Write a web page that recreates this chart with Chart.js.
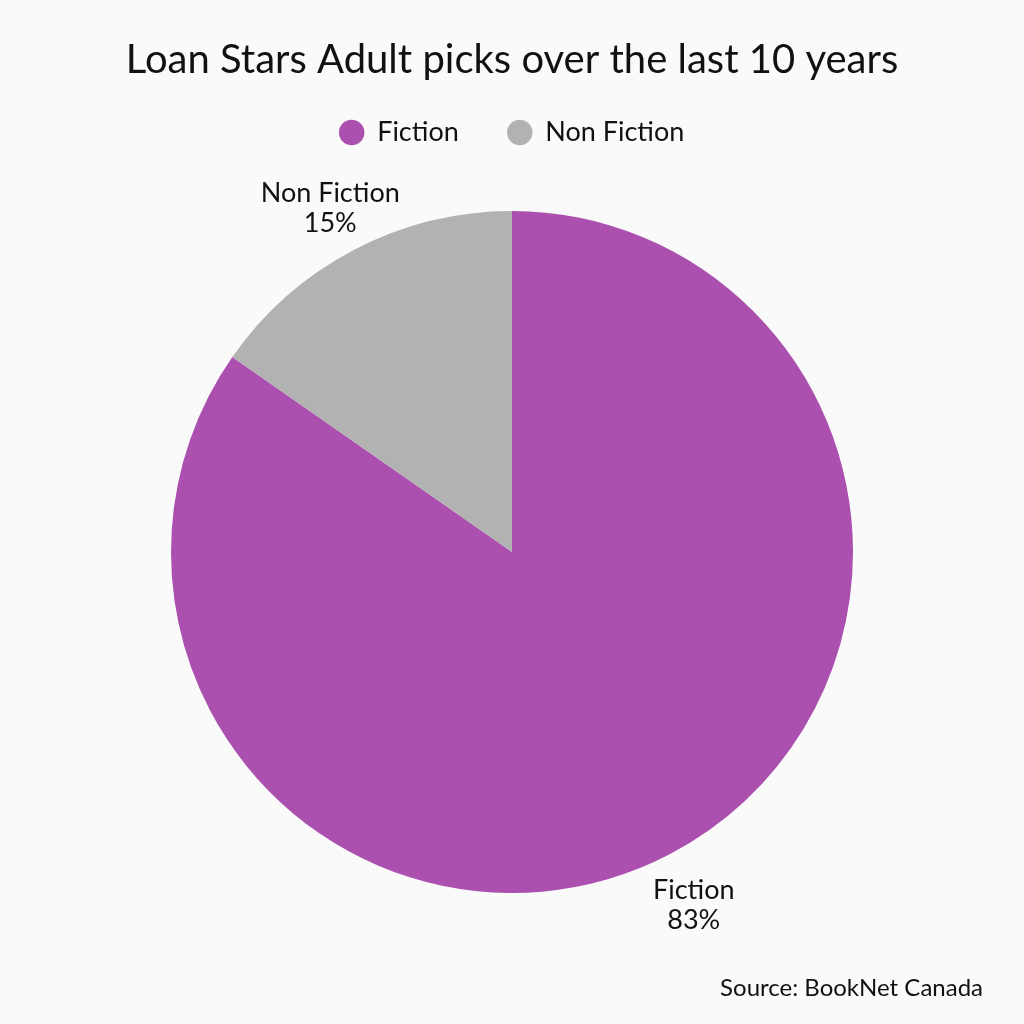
<!DOCTYPE html>
<html>
<head>
<meta charset="utf-8">
<title>Loan Stars Adult picks</title>
<script src="https://cdn.jsdelivr.net/npm/chart.js@4/dist/chart.umd.min.js"></script>
<style>
  body { margin: 0; background: #fafafa; }
  #wrap { width: 1024px; height: 1024px; }
</style>
</head>
<body>
<div id="wrap"><canvas id="pieChart"></canvas></div>
<script>
// Chart data
const categories = ["Fiction", "Non Fiction"];
const picks = [83, 15];
const sliceColors = ["#ab50ae", "#b2b2b2"];

const FONT = "Lato, 'Open Sans', sans-serif";

// Draw "name / value%" outside each slice
const outsideLabels = {
  id: "outsideLabels",
  afterDatasetsDraw(chart) {
    const ctx = chart.ctx;
    const meta = chart.getDatasetMeta(0);
    ctx.save();
    ctx.font = "27px " + FONT;
    ctx.fillStyle = "#111";
    ctx.textAlign = "center";
    ctx.textBaseline = "middle";
    meta.data.forEach((arc, i) => {
      const p = arc.getProps(["x", "y", "startAngle", "endAngle", "outerRadius"], true);
      const mid = (p.startAngle + p.endAngle) / 2;
      const r = p.outerRadius + 52;
      const x = p.x + Math.cos(mid) * r;
      const y = p.y + Math.sin(mid) * r;
      ctx.fillText(categories[i], x, y - 10);
      ctx.fillText(picks[i] + "%", x, y + 20);
    });
    ctx.restore();
  }
};

// Source note in the bottom right corner
const sourceNote = {
  id: "sourceNote",
  afterDraw(chart) {
    const ctx = chart.ctx;
    ctx.save();
    ctx.font = "24px " + FONT;
    ctx.fillStyle = "#111";
    ctx.textAlign = "right";
    ctx.textBaseline = "middle";
    ctx.fillText("Source: BookNet Canada", 983, 988);
    ctx.restore();
  }
};

new Chart(document.getElementById("pieChart"), {
  type: "pie",
  data: {
    labels: categories,
    datasets: [{
      data: picks,
      backgroundColor: sliceColors,
      borderWidth: 0,
      radius: 341
    }]
  },
  options: {
    responsive: true,
    maintainAspectRatio: false,
    animation: false,
    layout: { padding: { top: 0, bottom: 76 } },
    plugins: {
      title: {
        display: true,
        text: "Loan Stars Adult picks over the last 10 years",
        color: "#111",
        font: { family: FONT, size: 40, weight: "normal" },
        padding: { top: 36, bottom: -14 }
      },
      legend: {
        position: "top",
        labels: {
          usePointStyle: true,
          pointStyle: "circle",
          boxWidth: 24,
          boxHeight: 18,
          padding: 49,
          color: "#111",
          font: { family: FONT, size: 27 }
        }
      },
      tooltip: { enabled: false }
    }
  },
  plugins: [outsideLabels, sourceNote]
});
</script>
</body>
</html>
